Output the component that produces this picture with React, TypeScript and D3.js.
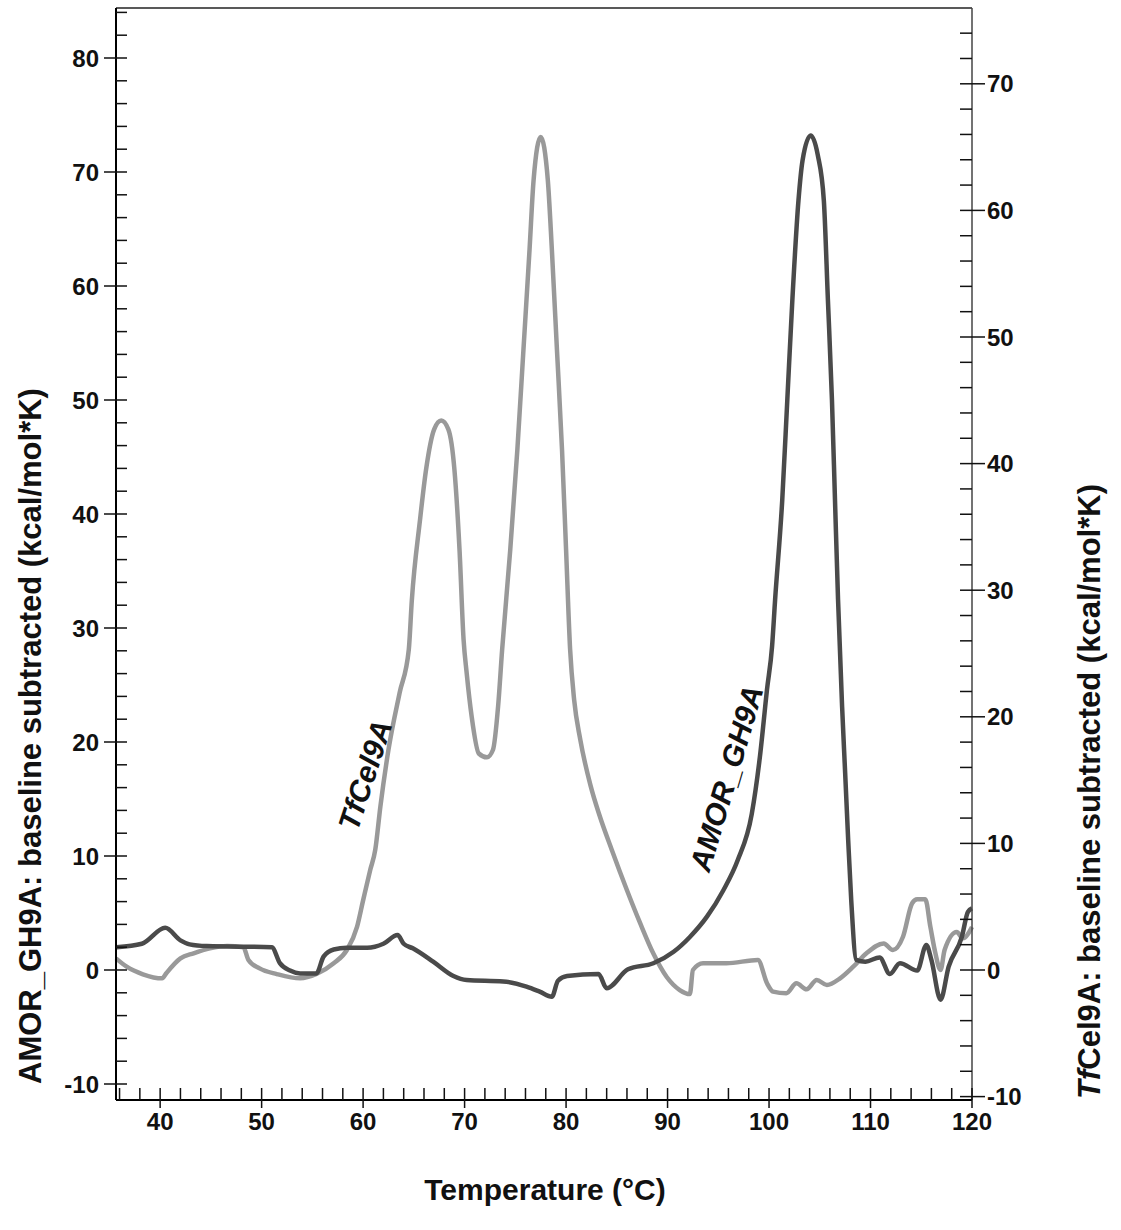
import React from "react";
import * as d3 from "d3";

// ---- Data ----
const amorTemp = [35.7, 38.2, 40.5, 42.0, 42.9, 44.6, 51.0, 51.8, 52.8, 53.8, 55.4, 56.1, 57.1, 58.4, 60.4, 62.0, 63.4, 64.0, 64.9, 66.9, 68.9, 70.2, 73.8, 76.1, 77.4, 78.6, 79.2, 80.1, 83.2, 84.0, 86.1, 88.6, 90.6, 92.2, 93.9, 95.5, 96.9, 98.3, 99.1, 99.8, 100.3, 100.6, 101.3, 101.8, 102.3, 102.9, 103.3, 104.1, 104.8, 105.4, 105.8, 106.2, 106.5, 106.8, 107.2, 107.5, 107.8, 108.1, 108.6, 109.5, 110.9, 111.9, 112.9, 114.6, 115.5, 116.0, 116.9, 117.7, 119.0, 119.6, 120.0];
const amorValue = [2.0, 2.3, 3.7, 2.6, 2.25, 2.1, 2.0, 0.6, -0.05, -0.3, -0.3, 1.17, 1.8, 1.95, 1.95, 2.3, 3.07, 2.3, 1.9, 0.73, -0.53, -0.88, -1.0, -1.46, -1.9, -2.34, -0.94, -0.53, -0.35, -1.6, 0.06, 0.59, 1.6, 2.9, 4.7, 7.0, 9.6, 13.7, 18.7, 24.6, 28.4, 32.5, 41.2, 50.0, 58.8, 67.5, 71.0, 73.2, 71.5, 67.5, 58.8, 50.0, 41.2, 32.5, 23.1, 17.3, 11.4, 6.1, 0.88, 0.73, 1.1, -0.35, 0.6, -0.05, 2.2, 0.88, -2.6, 0.3, 2.9, 5.1, 5.4];

const tfTemp = [35.65, 36.7, 38.3, 40.2, 40.6, 42.0, 43.3, 44.9, 46.6, 48.2, 48.7, 49.8, 51.5, 53.8, 55.4, 57.1, 58.4, 59.4, 60.0, 60.7, 61.2, 61.7, 62.5, 63.6, 64.5, 64.8, 65.6, 66.2, 67.0, 67.7, 68.4, 69.0, 69.5, 69.9, 70.2, 70.7, 71.4, 72.2, 72.8, 73.3, 73.7, 74.5, 75.2, 75.8, 76.4, 76.8, 77.5, 78.2, 78.6, 79.1, 79.6, 80.0, 80.4, 80.8, 81.4, 82.4, 83.3, 84.5, 86.0, 87.3, 88.6, 89.9, 91.2, 92.2, 92.5, 93.5, 95.8, 98.9, 99.8, 100.4, 101.7, 102.7, 103.7, 104.7, 105.7, 107.0, 108.3, 109.6, 111.3, 112.2, 113.2, 114.1, 114.6, 115.4, 115.9, 116.4, 116.9, 117.3, 118.5, 119.1, 120.0];
const tfValue = [0.92, 0.26, -0.34, -0.66, -0.26, 0.92, 1.32, 1.71, 1.9, 1.8, 0.79, 0.13, -0.32, -0.66, -0.32, 0.53, 1.58, 3.4, 5.5, 7.9, 9.5, 12.9, 17.4, 21.9, 25.3, 29.2, 35.5, 39.5, 42.7, 43.4, 42.7, 39.5, 33.2, 26.1, 23.5, 20.0, 17.1, 16.8, 17.4, 20.8, 25.3, 33.2, 41.1, 49.0, 56.9, 62.4, 65.8, 62.4, 56.9, 49.0, 41.1, 33.2, 25.3, 21.3, 18.2, 14.6, 12.2, 9.5, 6.3, 3.7, 1.3, -0.53, -1.58, -1.9, 0.0, 0.53, 0.53, 0.79, -1.05, -1.71, -1.84, -1.05, -1.53, -0.79, -1.18, -0.66, 0.26, 1.32, 2.1, 1.58, 2.63, 5.27, 5.58, 5.58, 3.4, 1.3, 0.0, 1.58, 3.0, 2.5, 3.4];

const xMajorTicks = [40, 50, 60, 70, 80, 90, 100, 110, 120];
const leftMajorTicks = [-10, 0, 10, 20, 30, 40, 50, 60, 70, 80];
const rightMajorTicks = [-10, 0, 10, 20, 30, 40, 50, 60, 70];

const xTitle = "Temperature (°C)";
const leftTitle = "AMOR_GH9A: baseline subtracted (kcal/mol*K)";
const rightTitleItalic = "Tf";
const rightTitleRest = "Cel9A: baseline subtracted (kcal/mol*K)";

// ---- Layout ----
const W = 1121;
const H = 1230;
const L = 116, R = 972, T = 8, B = 1100;
const FONT = "'Liberation Sans', Arial, Helvetica, sans-serif";
const DARK = "#4a4a4a";
const LIGHT = "#999999";

export default function App() {
  const x = d3.scaleLinear().domain([35.65, 120]).range([L, R]);
  const yL = d3.scaleLinear().domain([(970 - B) / 11.4, (970 - T) / 11.4]).range([B, T]);
  const yR = d3.scaleLinear().domain([(970 - B) / 12.66, (970 - T) / 12.66]).range([B, T]);

  const amorPts = amorTemp.map((t, i) => [t, amorValue[i]] as [number, number]);
  const tfPts = tfTemp.map((t, i) => [t, tfValue[i]] as [number, number]);
  const lineL = d3.line<[number, number]>().x((d) => x(d[0])).y((d) => yL(d[1])).curve(d3.curveMonotoneX);
  const lineR = d3.line<[number, number]>().x((d) => x(d[0])).y((d) => yR(d[1])).curve(d3.curveMonotoneX);

  const xMinor = d3.range(36, 120.01, 2).filter((v) => !xMajorTicks.includes(v));
  const lMinor = d3.range(-10, yL.domain()[1], 2).filter((v) => !leftMajorTicks.includes(v));
  const rMinor = d3.range(-10, yR.domain()[1], 2).filter((v) => !rightMajorTicks.includes(v));

  const tfLabel = { t: 60.2, v: 15.4 };
  const amorLabel = { t: 95.8, v: 16.8 };

  return (
    <div style={{ position: "absolute", left: 0, top: 0 }}>
      <svg width={W} height={H} style={{ display: "block", background: "#fff" }} fontFamily={FONT}>
        <rect x={0} y={0} width={W} height={H} fill="#fff" />
        {/* curves */}
        <path d={lineR(tfPts) || ""} fill="none" stroke={LIGHT} strokeWidth={4.5} strokeLinejoin="round" />
        <path d={lineL(amorPts) || ""} fill="none" stroke={DARK} strokeWidth={4.5} strokeLinejoin="round" />

        {/* frame */}
        <line x1={L} x2={R} y1={T} y2={T} stroke="#222" strokeWidth={1.5} />
        <line x1={L} x2={L} y1={T} y2={B} stroke="#000" strokeWidth={2} />
        <line x1={R} x2={R} y1={T} y2={B} stroke="#444" strokeWidth={1.5} />
        <line x1={L} x2={R} y1={B} y2={B} stroke="#000" strokeWidth={2} />

        {/* left axis ticks */}
        {lMinor.map((v) => (
          <line key={"lm" + v} x1={L} x2={L + 11} y1={yL(v)} y2={yL(v)} stroke="#111" strokeWidth={1.5} />
        ))}
        {leftMajorTicks.map((v) => (
          <g key={"lM" + v}>
            <line x1={L - 12} x2={L + 11} y1={yL(v)} y2={yL(v)} stroke="#111" strokeWidth={1.5} />
            <text x={L - 17} y={yL(v)} dy="0.36em" textAnchor="end" fontSize={24} fontWeight="bold" fill="#111">
              {v}
            </text>
          </g>
        ))}

        {/* right axis ticks */}
        {rMinor.map((v) => (
          <line key={"rm" + v} x1={R - 12} x2={R} y1={yR(v)} y2={yR(v)} stroke="#111" strokeWidth={1.5} />
        ))}
        {rightMajorTicks.map((v) => (
          <g key={"rM" + v}>
            <line x1={R - 12} x2={R + 13} y1={yR(v)} y2={yR(v)} stroke="#111" strokeWidth={1.5} />
            <text x={R + 15} y={yR(v)} dy="0.36em" textAnchor="start" fontSize={24} fontWeight="bold" fill="#111">
              {v}
            </text>
          </g>
        ))}

        {/* x axis ticks */}
        {xMinor.map((v) => (
          <line key={"xm" + v} x1={x(v)} x2={x(v)} y1={B} y2={B - 12} stroke="#111" strokeWidth={1.5} />
        ))}
        {xMajorTicks.map((v) => (
          <g key={"xM" + v}>
            <line x1={x(v)} x2={x(v)} y1={B + 8} y2={B - 12} stroke="#111" strokeWidth={1.5} />
            <text x={x(v)} y={B + 30} textAnchor="middle" fontSize={24} fontWeight="bold" fill="#111">
              {v}
            </text>
          </g>
        ))}

        {/* axis titles */}
        <text x={545} y={1200} textAnchor="middle" fontSize={30} fontWeight="bold" fill="#111">
          {xTitle}
        </text>
        <text transform={`translate(41, 1084) rotate(-90)`} textAnchor="start" fontSize={31} fontWeight="bold" fill="#111">
          {leftTitle}
        </text>
        <text transform={`translate(1100, 1099) rotate(-90)`} textAnchor="start" fontSize={31} fontWeight="bold" fill="#111">
          <tspan fontStyle="italic">{rightTitleItalic}</tspan>
          <tspan>{rightTitleRest}</tspan>
        </text>

        {/* curve labels */}
        <text
          transform={`translate(${x(tfLabel.t)}, ${yR(tfLabel.v)}) rotate(-72)`}
          textAnchor="middle"
          dy="0.35em"
          fontSize={30}
          fontWeight="bold"
          fontStyle="italic"
          fill="#111"
        >
          TfCel9A
        </text>
        <text
          transform={`translate(${x(amorLabel.t)}, ${yL(amorLabel.v)}) rotate(-73.5)`}
          textAnchor="middle"
          dy="0.35em"
          fontSize={30}
          fontWeight="bold"
          fontStyle="italic"
          fill="#111"
        >
          AMOR_GH9A
        </text>
      </svg>
    </div>
  );
}
